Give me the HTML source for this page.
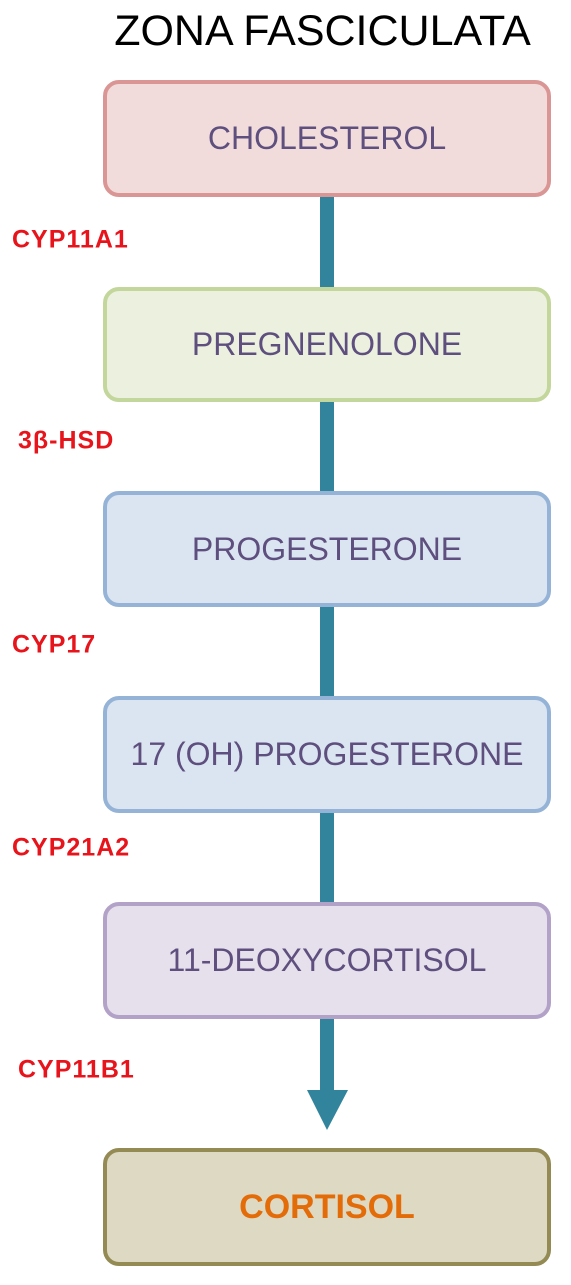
<!DOCTYPE html>
<html><head><style>
body{margin:0;width:571px;height:1285px;background:#fff;position:relative;font-family:"Liberation Sans",sans-serif;overflow:hidden}
.t{position:absolute;left:0;width:645px;text-align:center;top:7px;font-size:43px;color:#000}
.b{position:absolute;left:103px;width:440px;border:4px solid;border-radius:16px;display:flex;align-items:center;justify-content:center;font-size:32px;color:#5e4f7e;box-sizing:content-box}
.l{position:absolute;color:#e8141c;font-size:25px;font-weight:bold;letter-spacing:1px;transform:translateY(-50%)}
.c{position:absolute;left:320px;width:14px;background:#31849b}
</style></head><body>
<div class="t">ZONA FASCICULATA</div>
<div class="c" style="top:195px;height:95px"></div>
<div class="c" style="top:400px;height:95px"></div>
<div class="c" style="top:605px;height:95px"></div>
<div class="c" style="top:810px;height:95px"></div>
<div class="c" style="top:1017px;height:76px"></div>
<svg style="position:absolute;left:0;top:0" width="571" height="1285"><polygon points="307,1090 348,1090 327,1130" fill="#31849b"/></svg>
<div class="b" style="top:80px;height:109px;background:#f2dcdb;border-color:#d99694">CHOLESTEROL</div>
<div class="b" style="top:287px;height:107px;background:#ebf1de;border-color:#c3d69b">PREGNENOLONE</div>
<div class="b" style="top:491px;height:108px;background:#dbe5f1;border-color:#95b3d7">PROGESTERONE</div>
<div class="b" style="top:696px;height:109px;background:#dbe5f1;border-color:#95b3d7">17 (OH) PROGESTERONE</div>
<div class="b" style="top:902px;height:109px;background:#e5e0ec;border-color:#b3a2c7">11-DEOXYCORTISOL</div>
<div class="b" style="top:1148px;height:110px;background:#ddd9c3;border-color:#948a54;color:#e36c09;font-weight:bold;font-size:34px">CORTISOL</div>
<div class="l" style="left:12px;top:240px">CYP11A1</div>
<div class="l" style="left:18px;top:441px">3β-HSD</div>
<div class="l" style="left:12px;top:645px">CYP17</div>
<div class="l" style="left:12px;top:848px">CYP21A2</div>
<div class="l" style="left:18px;top:1070px">CYP11B1</div>
</body></html>
